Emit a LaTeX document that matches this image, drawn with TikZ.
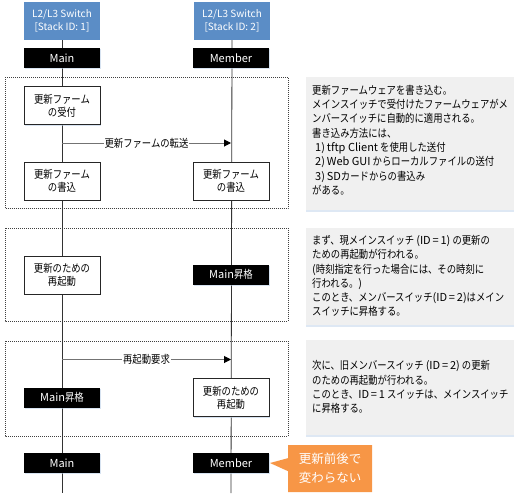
\documentclass[tikz,border=0pt]{standalone}
\usepackage{fontspec}
\setmainfont{Noto Sans CJK JP}
\newfontfamily\jp{Noto Sans CJK JP}[FakeStretch=0.85]
\newfontfamily\lat{Noto Sans CJK JP}
\usetikzlibrary{arrows.meta,shadows,shapes.callouts,backgrounds}
\definecolor{swblue}{HTML}{5B8DC6}
\definecolor{notegray}{HTML}{F0F0F0}
\definecolor{callorange}{HTML}{F79646}
\tikzset{
  bluebox/.style={fill=swblue, text=white, minimum width=76pt, minimum height=38pt, inner sep=0pt, align=center, font=\fontsize{10}{13}\selectfont},
  blk/.style={fill=black, text=white, minimum width=76pt, minimum height=20pt, inner sep=0pt, font=\fontsize{11}{12}\selectfont, drop shadow={shadow xshift=1pt, shadow yshift=-1pt, fill=swblue!40, opacity=0.6}},
  wbox/.style={draw=black!85, fill=white, line width=0.8pt, minimum width=76pt, minimum height=38pt, inner sep=0pt, align=center, font=\jp\fontsize{11}{13}\selectfont, drop shadow={shadow xshift=1pt, shadow yshift=-1pt, fill=swblue!40, opacity=0.6}},
  frm/.style={draw=black!75, line width=0.6pt, dash pattern=on 1pt off 1pt},
  notebox/.style={fill=notegray, drop shadow={shadow xshift=0pt, shadow yshift=-1.5pt, fill=swblue!25, opacity=0.8}},
  notetxt/.style={anchor=west, align=left, inner sep=0pt, font=\jp\fontsize{11}{14.3}\selectfont},
  life/.style={draw=black!80, line width=0.8pt},
  msg/.style={draw=black!55, line width=1pt, -{Triangle[length=7pt,width=7pt,color=black]}},
  msglbl/.style={fill=white, inner sep=1pt, font=\jp\fontsize{11}{13}\selectfont},
}
\newcommand{\la}[1]{{\lat #1}}
\begin{document}
\begin{tikzpicture}[x=1pt,y=-1pt]
\useasboundingbox (0,0) rectangle (519,493);
% nodes
\node[bluebox] (sw1) at (62,21) {L2/L3 Switch\\{[}Stack ID: 1{]}};
\node[bluebox] (sw2) at (232,21) {L2/L3 Switch\\{[}Stack ID: 2{]}};
\node[blk] (main1) at (62,58) {Main};
\node[blk] (mem1) at (231,58) {Member};
\node[wbox] (recv) at (62,105.5) {更新ファーム\\の受付};
\node[wbox] (wr1) at (62,181) {更新ファーム\\の書込};
\node[wbox] (wr2) at (231,181) {更新ファーム\\の書込};
\node[wbox] (rb1) at (62,275) {更新のための\\再起動};
\node[blk] (up2) at (231,274.5) {Main\jp 昇格};
\node[blk] (up1) at (62,397.5) {Main\jp 昇格};
\node[wbox] (rb2) at (231,397.5) {更新のための\\再起動};
\node[blk] (main2) at (62,463) {Main};
\node[blk] (mem2) at (231,463) {Member};
\coordinate (end1) at (62,493);
\coordinate (end2) at (231,493);
\coordinate (a1s) at (62,143);
\coordinate (a1e) at (231,143);
\coordinate (a2s) at (62,359.5);
\coordinate (a2e) at (231,359.5);
\node[rectangle callout, fill=callorange, text=white, minimum width=84pt, minimum height=47pt, inner sep=0pt, align=center,
  callout absolute pointer={(270,463)}, callout pointer width=13pt, font=\fontsize{12.5}{19}\selectfont] (call) at (330,468.5) {更新前後で\\変わらない};
% notes
\node[notetxt] (n1) at (312,140) {更新ファームウェアを書き込む。\\メインスイッチで受付けたファームウェアがメ\\ンバースイッチに自動的に適用される。\\書き込み方法には、\\\hspace{3pt}\la{1)\,tftp Client} を使用した送付\\\hspace{3pt}\la{2)\,Web GUI} からローカルファイルの送付\\\hspace{3pt}\la{3)\,SD}カードからの書込み\\がある。};
\node[notetxt] (n2) at (312,276) {まず、現メインスイッチ \la{(ID\,=\,1)} の更新の\\ための再起動が行われる。\\\la{(}時刻指定を行った場合には、その時刻に\\行われる。\la{)}\\このとき、メンバースイッチ\la{(ID\,=\,2)}はメイン\\スイッチに昇格する。};
\node[notetxt] (n3) at (312,387) {次に、旧メンバースイッチ \la{(ID\,=\,2)} の更新\\のための再起動が行われる。\\このとき、\la{ID\,=\,1} スイッチは、メインスイッチ\\に昇格する。};
\begin{scope}[on background layer]
  \fill[notebox] (306,77) rectangle (514,210);
  \fill[notebox] (306,228) rectangle (514,325);
  \fill[notebox] (306,340) rectangle (514,435);
  \draw[frm] (5,77) rectangle (288,208.5);
  \draw[frm] (5,228) rectangle (288,321);
  \draw[frm] (5,341) rectangle (288,436);
  \draw[life] (sw1.south) -- (end1);
  \draw[life] (232,40) -- (end2);
\end{scope}
\draw[msg] (a1s) -- node[msglbl] {更新ファームの転送} (a1e);
\draw[msg] (a2s) -- node[msglbl] {再起動要求} (a2e);
\end{tikzpicture}
\end{document}
